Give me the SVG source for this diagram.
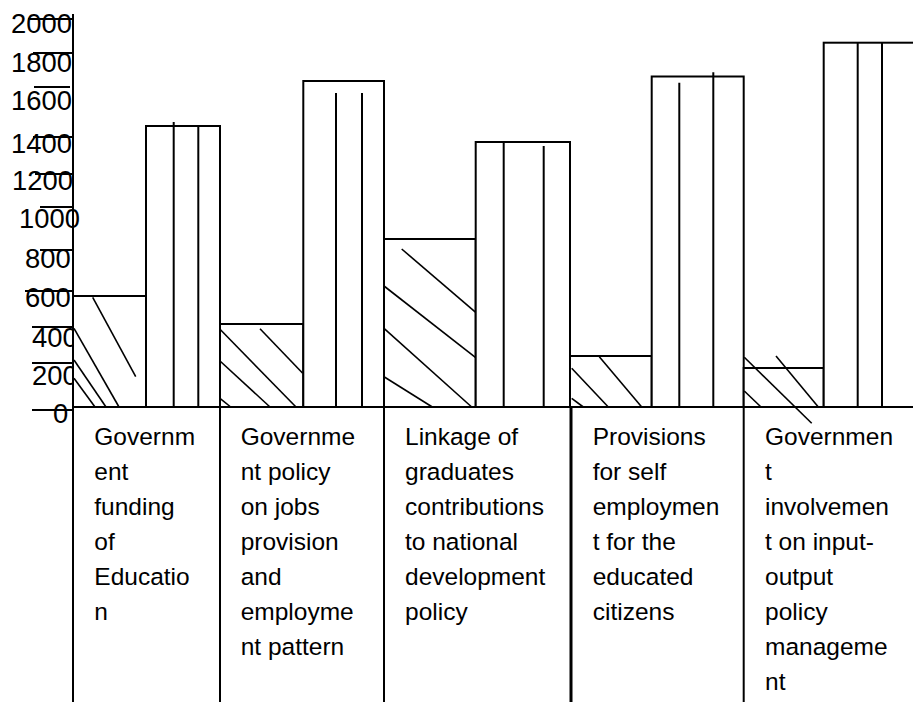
<svg xmlns="http://www.w3.org/2000/svg" width="913" height="702" viewBox="0 0 913 702">
<style>
.ax{font-family:"Liberation Sans",Arial,sans-serif;font-size:27.4px;fill:#000}
.cat{font-family:"Liberation Sans",Arial,sans-serif;font-size:24.5px;fill:#000}
.ln{stroke:#000;stroke-width:2;fill:none}
.bar{stroke:#000;stroke-width:2;fill:#fff}
.thin{stroke:#000;stroke-width:1.6;fill:none}
</style>
<rect width="913" height="702" fill="#fff"/>
<g id="y-axis-labels">
<text class="ax" x="11" y="33">2000</text>
<text class="ax" x="11" y="72">1800</text>
<text class="ax" x="11" y="110">1600</text>
<text class="ax" x="11" y="153">1400</text>
<text class="ax" x="12" y="190">1200</text>
<text class="ax" x="19" y="228">1000</text>
<text class="ax" x="25" y="268">800</text>
<text class="ax" x="25" y="307">600</text>
<text class="ax" x="32" y="347">400</text>
<text class="ax" x="32" y="385">200</text>
<text class="ax" x="53" y="423">0</text>
</g>
<g id="ticks">
<line class="ln" x1="28" y1="19" x2="72" y2="19"/>
<line class="ln" x1="33" y1="53" x2="72" y2="53"/>
<line class="ln" x1="34" y1="87" x2="70" y2="87"/>
<line class="ln" x1="33" y1="137" x2="72" y2="137"/>
<line class="ln" x1="35" y1="174" x2="72" y2="174"/>
<line class="ln" x1="40" y1="207" x2="73" y2="207"/>
<line class="ln" x1="40" y1="250" x2="73" y2="250"/>
<line class="ln" x1="25" y1="291" x2="73" y2="291"/>
<line class="ln" x1="32" y1="327" x2="73" y2="327"/>
<line class="ln" x1="32" y1="363" x2="73" y2="363"/>
<line class="ln" x1="32" y1="410" x2="73" y2="410"/>
</g>
<g id="group1">
<rect class="bar" x="73" y="296" width="73" height="111"/>
<line class="thin" x1="92.7" y1="297.3" x2="135.7" y2="376.7"/>
<line class="thin" x1="74" y1="328.3" x2="119" y2="407"/>
<line class="thin" x1="74" y1="360" x2="106" y2="407"/>
<line class="thin" x1="74" y1="378.3" x2="95" y2="407"/>
<rect class="bar" x="146" y="126" width="74" height="281"/>
<line class="ln" x1="173.7" y1="122" x2="173.7" y2="407"/>
<line class="ln" x1="198.3" y1="126" x2="198.3" y2="407"/>
</g>
<g id="group2">
<rect class="bar" x="220" y="324" width="83.3" height="83"/>
<line class="thin" x1="260" y1="328.7" x2="302.7" y2="373.3"/>
<line class="thin" x1="220" y1="329.3" x2="296" y2="407"/>
<line class="thin" x1="220" y1="361" x2="270" y2="407"/>
<line class="thin" x1="220" y1="398.3" x2="230.7" y2="407"/>
<rect class="bar" x="303.3" y="81" width="80.7" height="326"/>
<line class="ln" x1="336" y1="93" x2="336" y2="407"/>
<line class="ln" x1="362" y1="93" x2="362" y2="407"/>
</g>
<g id="group3">
<rect class="bar" x="384" y="239" width="91.7" height="168"/>
<line class="thin" x1="401.7" y1="249" x2="475.7" y2="312.3"/>
<line class="thin" x1="384" y1="286" x2="475.7" y2="357.7"/>
<line class="thin" x1="384" y1="328.3" x2="471.7" y2="407"/>
<line class="thin" x1="384" y1="376.7" x2="432.3" y2="407"/>
<rect class="bar" x="475.7" y="142" width="94.3" height="265"/>
<line class="ln" x1="503.7" y1="142" x2="503.7" y2="407"/>
<line class="ln" x1="543.7" y1="146" x2="543.7" y2="407"/>
</g>
<g id="group4">
<rect class="bar" x="570" y="356" width="81.7" height="51"/>
<line class="thin" x1="599.3" y1="356.7" x2="641.7" y2="407"/>
<line class="thin" x1="571.7" y1="368.3" x2="608.3" y2="407"/>
<line class="thin" x1="571.7" y1="398.3" x2="583.3" y2="407"/>
<rect class="bar" x="651.7" y="76.5" width="92" height="330.5"/>
<line class="ln" x1="679.3" y1="82.7" x2="679.3" y2="407"/>
<line class="ln" x1="713.3" y1="72.3" x2="713.3" y2="407"/>
</g>
<g id="group5">
<rect class="bar" x="743.7" y="368" width="80" height="39"/>
<rect class="bar" x="823.7" y="42.7" width="92" height="364.3"/>
<line class="ln" x1="857.7" y1="42.7" x2="857.7" y2="407"/>
<line class="ln" x1="882" y1="42.7" x2="882" y2="407"/>
</g>
<g id="table">
<line class="ln" x1="220" y1="407" x2="220" y2="702"/>
<line class="ln" x1="384" y1="407" x2="384" y2="702"/>
<line stroke="#000" stroke-width="3" x1="571" y1="407" x2="571" y2="702"/>
<line class="ln" x1="743.7" y1="407" x2="743.7" y2="702"/>
</g>
<g id="axes">
<line class="ln" x1="73" y1="14" x2="73" y2="702"/>
<line class="ln" x1="73" y1="407" x2="913" y2="407"/>
</g>
<g id="group5-hatch">
<line class="thin" x1="776" y1="356" x2="818.3" y2="407"/>
<line class="thin" x1="744.3" y1="357.3" x2="811.7" y2="423.3"/>
<line class="thin" x1="744.3" y1="391" x2="761" y2="407"/>
</g>
<g id="cat1">
<text class="cat" x="94.3" y="445">Governm</text>
<text class="cat" x="94.3" y="480">ent</text>
<text class="cat" x="94.3" y="515">funding</text>
<text class="cat" x="94.3" y="550">of</text>
<text class="cat" x="94.3" y="585">Educatio</text>
<text class="cat" x="94.3" y="620">n</text>
</g>
<g id="cat2">
<text class="cat" x="240.7" y="445">Governme</text>
<text class="cat" x="240.7" y="480">nt policy</text>
<text class="cat" x="240.7" y="515">on jobs</text>
<text class="cat" x="240.7" y="550">provision</text>
<text class="cat" x="240.7" y="585">and</text>
<text class="cat" x="240.7" y="620">employme</text>
<text class="cat" x="240.7" y="655">nt pattern</text>
</g>
<g id="cat3">
<text class="cat" x="405" y="445">Linkage of</text>
<text class="cat" x="405" y="480">graduates</text>
<text class="cat" x="405" y="515">contributions</text>
<text class="cat" x="405" y="550">to national</text>
<text class="cat" x="405" y="585">development</text>
<text class="cat" x="405" y="620">policy</text>
</g>
<g id="cat4">
<text class="cat" x="592.7" y="445">Provisions</text>
<text class="cat" x="592.7" y="480">for self</text>
<text class="cat" x="592.7" y="515">employmen</text>
<text class="cat" x="592.7" y="550">t for the</text>
<text class="cat" x="592.7" y="585">educated</text>
<text class="cat" x="592.7" y="620">citizens</text>
</g>
<g id="cat5">
<text class="cat" x="765" y="445">Governmen</text>
<text class="cat" x="765" y="480">t</text>
<text class="cat" x="765" y="515">involvemen</text>
<text class="cat" x="765" y="550">t on input-</text>
<text class="cat" x="765" y="585">output</text>
<text class="cat" x="765" y="620">policy</text>
<text class="cat" x="765" y="655">manageme</text>
<text class="cat" x="765" y="690">nt</text>
</g>
</svg>
